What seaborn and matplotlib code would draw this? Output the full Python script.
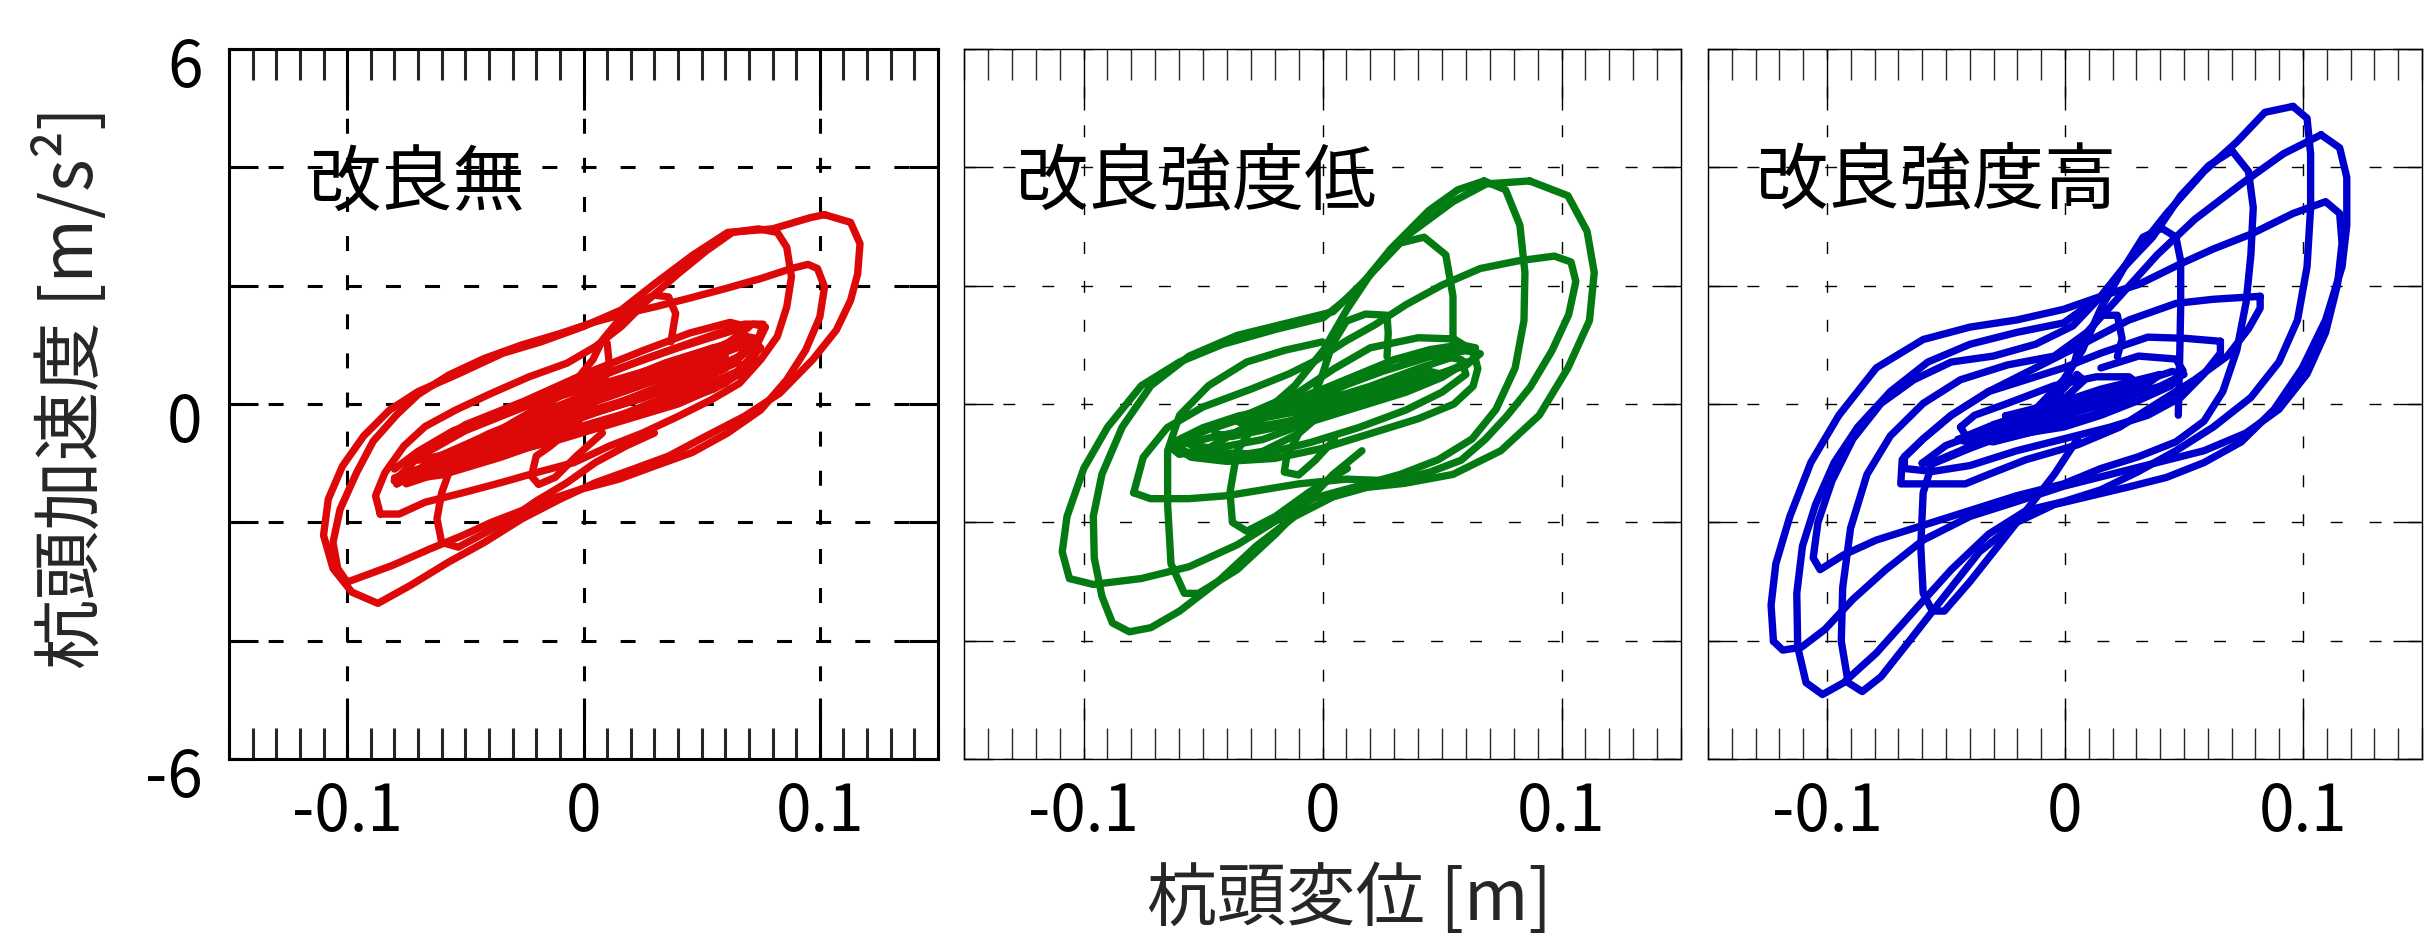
import pandas as pd
import matplotlib.pyplot as plt
import seaborn as sns
from matplotlib.ticker import FixedLocator, FixedFormatter, MultipleLocator, NullLocator
from matplotlib.transforms import ScaledTranslation

sns.set_style('ticks')
plt.rcParams['font.family'] = ['Noto Sans CJK JP', 'DejaVu Sans']

# ---- loops: (pile-head displacement [m], acceleration [m/s2]) ----

# 改良無 (no improvement)
red_loop1 = [(0.102, 3.20), (0.113, 3.07), (0.117, 2.71), (0.116, 2.20), (0.113, 1.75), (0.107, 1.25),
             (0.097, 0.75), (0.083, 0.18), (0.068, -0.21), (0.052, -0.54), (0.036, -0.88), (0.021, -1.10),
             (0.005, -1.33), (-0.010, -1.61), (-0.026, -1.94), (-0.042, -2.34), (-0.057, -2.67),
             (-0.073, -3.06), (-0.087, -3.37), (-0.098, -3.18), (-0.106, -2.78), (-0.110, -2.22),
             (-0.108, -1.61), (-0.102, -1.05), (-0.093, -0.54), (-0.082, -0.10), (-0.070, 0.21),
             (-0.054, 0.49), (-0.034, 0.86), (-0.018, 1.05), (0.000, 1.31), (0.016, 1.59), (0.030, 2.03),
             (0.046, 2.51), (0.061, 2.90), (0.080, 2.96), (0.096, 3.15), (0.102, 3.20)]
red_loop2 = [(-0.100, -3.01), (-0.081, -2.73), (-0.065, -2.45), (-0.051, -2.22), (-0.039, -2.00),
             (-0.026, -1.80), (-0.014, -1.61), (-0.001, -1.44), (0.015, -1.27), (0.030, -1.05), (0.046, -0.82),
             (0.061, -0.49), (0.075, -0.10), (0.086, 0.41), (0.094, 0.91), (0.100, 1.47), (0.102, 1.98),
             (0.099, 2.29), (0.095, 2.36), (0.088, 2.29), (0.075, 2.12), (0.060, 1.95), (0.044, 1.78),
             (0.030, 1.64), (0.018, 1.53), (0.005, 1.39), (-0.010, 1.19), (-0.026, 1.00), (-0.042, 0.77),
             (-0.057, 0.49), (-0.070, 0.16), (-0.079, -0.18), (-0.089, -0.63), (-0.096, -1.16),
             (-0.103, -1.78), (-0.106, -2.34), (-0.104, -2.78), (-0.100, -3.01)]
red_loop3 = [(-0.086, -1.86), (-0.088, -1.55), (-0.084, -1.16), (-0.076, -0.71), (-0.067, -0.38),
             (-0.054, -0.10), (-0.039, 0.18), (-0.023, 0.46), (-0.007, 0.69), (0.005, 0.97), (0.016, 1.31),
             (0.027, 1.75), (0.040, 2.20), (0.052, 2.59), (0.063, 2.90), (0.074, 2.96), (0.082, 2.90),
             (0.086, 2.65), (0.088, 2.15), (0.086, 1.64), (0.082, 1.14), (0.075, 0.75), (0.066, 0.35),
             (0.054, 0.07), (0.040, -0.21), (0.025, -0.49), (0.011, -0.71), (-0.004, -0.99), (-0.020, -1.16),
             (-0.035, -1.33), (-0.051, -1.50), (-0.067, -1.66), (-0.078, -1.86), (-0.086, -1.86)]
red_loop4 = [(0.037, 1.05), (0.039, 1.53), (0.036, 1.81), (0.030, 1.84), (0.022, 1.70), (0.015, 1.42),
             (0.008, 1.08), (0.004, 0.75), (-0.003, 0.41), (-0.010, 0.13), (-0.023, -0.15), (-0.035, -0.43),
             (-0.048, -0.71), (-0.056, -1.05), (-0.060, -1.50), (-0.062, -1.94), (-0.060, -2.34),
             (-0.053, -2.42), (-0.045, -2.25), (-0.032, -1.97), (-0.020, -1.64), (-0.007, -1.33),
             (0.005, -0.99), (0.018, -0.71), (0.030, -0.49)]
red_loop5 = [(0.010, 1.03), (0.011, 0.63), (0.005, 0.07), (-0.004, -0.38), (-0.014, -0.71), (-0.020, -0.88),
             (-0.022, -1.22), (-0.019, -1.36), (-0.012, -1.24), (-0.003, -0.88), (0.008, -0.49)]
red_core1 = [(-0.079, -1.35), (-0.072, -0.95), (-0.058, -0.55), (-0.035, -0.15), (-0.010, 0.25), (0.015, 0.60),
             (0.040, 0.95), (0.060, 1.20), (0.072, 1.35), (0.077, 1.30), (0.074, 1.05), (0.065, 0.75),
             (0.048, 0.45), (0.025, 0.10), (0.000, -0.20), (-0.025, -0.50), (-0.050, -0.85), (-0.068, -1.15),
             (-0.079, -1.35)]
red_core2 = [(-0.075, -1.30), (-0.065, -0.95), (-0.045, -0.60), (-0.020, -0.25), (0.005, 0.10), (0.030, 0.50),
             (0.050, 0.85), (0.068, 1.15), (0.074, 1.10), (0.068, 0.85), (0.050, 0.50), (0.025, 0.15),
             (0.000, -0.15), (-0.030, -0.55), (-0.055, -0.95), (-0.072, -1.25)]
red_core3 = [(-0.070, -1.15), (-0.055, -0.80), (-0.030, -0.40), (0.000, 0.00), (0.030, 0.40), (0.055, 0.80),
             (0.070, 1.05), (0.066, 0.80), (0.045, 0.40), (0.020, 0.05), (-0.010, -0.35), (-0.040, -0.75),
             (-0.062, -1.05), (-0.070, -1.15)]
red_core4 = [(-0.080, -1.25), (-0.070, -1.10), (-0.050, -0.90), (-0.020, -0.60), (0.010, -0.25), (0.040, 0.10),
             (0.065, 0.55), (0.075, 0.95), (0.070, 1.10), (0.055, 0.95), (0.030, 0.60), (0.000, 0.25),
             (-0.030, -0.10), (-0.055, -0.45), (-0.070, -0.80), (-0.080, -1.10)]
red_core5 = [(-0.060, -0.90), (-0.040, -0.50), (-0.015, -0.10), (0.010, 0.30), (0.035, 0.70), (0.055, 0.95),
             (0.060, 0.85), (0.045, 0.50), (0.020, 0.10), (-0.005, -0.30), (-0.030, -0.65), (-0.050, -0.95),
             (-0.060, -0.90)]
red_core6 = [(-0.040, -0.55), (-0.020, -0.25), (0.000, 0.05), (0.020, 0.35), (0.040, 0.60), (0.045, 0.50),
             (0.030, 0.25), (0.010, -0.05), (-0.010, -0.30), (-0.030, -0.55), (-0.040, -0.55)]
red_core7 = [(-0.080, -1.30), (-0.070, -0.90), (-0.050, -0.45), (-0.025, -0.05), (0.000, 0.35), (0.025, 0.75),
             (0.050, 1.10), (0.068, 1.35), (0.076, 1.35), (0.074, 1.10), (0.060, 0.60), (0.040, 0.20),
             (0.015, -0.20), (-0.010, -0.55), (-0.035, -0.90), (-0.060, -1.20), (-0.080, -1.30)]
red_core8 = [(-0.075, -1.35), (-0.060, -1.15), (-0.035, -0.85), (-0.010, -0.60), (0.015, -0.30), (0.040, 0.00),
             (0.060, 0.35), (0.072, 0.75), (0.074, 1.00), (0.065, 0.95), (0.045, 0.65), (0.020, 0.30),
             (-0.005, -0.05), (-0.030, -0.40), (-0.055, -0.80), (-0.072, -1.20)]
red_core9 = [(-0.070, -0.85), (-0.050, -0.35), (-0.025, 0.05), (0.000, 0.50), (0.025, 0.90), (0.045, 1.20),
             (0.062, 1.38), (0.070, 1.30), (0.060, 1.00), (0.040, 0.65), (0.015, 0.25), (-0.010, -0.15),
             (-0.035, -0.50), (-0.058, -0.85), (-0.070, -0.95)]
red_core10 = [(-0.050, -0.75), (-0.030, -0.45), (-0.005, -0.10), (0.020, 0.25), (0.045, 0.60), (0.060, 0.80),
              (0.055, 0.60), (0.035, 0.30), (0.010, -0.05), (-0.015, -0.40), (-0.040, -0.70), (-0.050, -0.75)]
red_core11 = [(-0.065, -1.20), (-0.045, -0.95), (-0.020, -0.70), (0.005, -0.40), (0.030, -0.10), (0.055, 0.25),
              (0.070, 0.60), (0.065, 0.70), (0.050, 0.45), (0.025, 0.10), (0.000, -0.20), (-0.025, -0.55),
              (-0.050, -0.95), (-0.065, -1.20)]

# 改良強度低 (low-strength improvement)
green_loop1 = [(0.0867, 3.77), (0.1027, 3.52), (0.1107, 2.92), (0.1137, 2.22), (0.1117, 1.41), (0.1027, 0.61),
               (0.0907, -0.19), (0.0746, -0.79), (0.0546, -1.19), (0.0345, -1.34), (0.0185, -1.41),
               (0.0044, -1.57), (-0.0116, -1.90), (-0.0277, -2.40), (-0.0437, -3.00), (-0.0598, -3.50),
               (-0.0718, -3.78), (-0.0808, -3.85), (-0.0879, -3.70), (-0.0923, -3.25), (-0.0955, -2.60),
               (-0.0959, -1.90), (-0.0923, -1.19), (-0.0838, -0.39), (-0.0718, 0.31), (-0.0558, 0.81),
               (-0.0357, 1.16), (-0.0156, 1.36), (0.0044, 1.56), (0.0185, 2.12), (0.0345, 2.82),
               (0.0546, 3.42), (0.0686, 3.72), (0.0867, 3.77)]
green_loop2 = [(0.0676, 3.77), (0.0766, 3.62), (0.0826, 3.02), (0.0847, 2.22), (0.0843, 1.41), (0.0806, 0.61),
               (0.0726, -0.09), (0.0626, -0.59), (0.0485, -0.94), (0.0325, -1.19), (0.0165, -1.37),
               (-0.0036, -1.59), (-0.0197, -1.98), (-0.0357, -2.38), (-0.0558, -2.75), (-0.0758, -2.95),
               (-0.0959, -3.05), (-0.1059, -2.95), (-0.1089, -2.50), (-0.1069, -1.90), (-0.0999, -1.09),
               (-0.0899, -0.39), (-0.0758, 0.31), (-0.0598, 0.71), (-0.0417, 1.01), (-0.0197, 1.26),
               (0.0004, 1.46), (0.0144, 1.92), (0.0285, 2.62), (0.0445, 3.27), (0.0566, 3.62), (0.0676, 3.77)]
green_loop3 = [(-0.079, -1.50), (-0.075, -0.90), (-0.065, -0.40), (-0.050, -0.05), (-0.030, 0.25),
               (-0.014, 0.51), (-0.003, 0.73), (0.010, 1.07), (0.022, 1.34), (0.035, 1.68), (0.050, 2.01),
               (0.066, 2.29), (0.082, 2.42), (0.097, 2.50), (0.104, 2.40), (0.106, 2.07), (0.103, 1.51),
               (0.096, 0.90), (0.087, 0.29), (0.077, -0.21), (0.068, -0.60), (0.058, -0.95), (0.045, -1.15),
               (0.030, -1.30), (0.010, -1.27), (-0.010, -1.35), (-0.025, -1.45), (-0.040, -1.55),
               (-0.056, -1.60), (-0.072, -1.60), (-0.079, -1.50)]
green_loop4 = [(0.0546, 0.91), (0.0546, 1.82), (0.0516, 2.52), (0.0425, 2.82), (0.0325, 2.72), (0.0205, 2.22),
               (0.0104, 1.61), (0.0004, 0.91), (-0.0116, 0.31), (-0.0257, -0.19), (-0.0357, -0.79),
               (-0.0387, -1.49), (-0.0377, -2.00), (-0.0317, -2.15), (-0.0197, -1.90), (-0.0056, -1.49),
               (0.0104, -1.09)]
green_loop5 = [(0.0165, -0.79), (0.0044, -1.19), (-0.0076, -1.70), (-0.0197, -2.20), (-0.0357, -2.80),
               (-0.0518, -3.20), (-0.0578, -3.20), (-0.0634, -2.70), (-0.0648, -1.70), (-0.0648, -0.79),
               (-0.0598, -0.19), (-0.0477, 0.31), (-0.0317, 0.71), (-0.0156, 0.91), (0.0000, 1.05)]
green_loop6 = [(0.027, 0.80), (0.0275, 1.20), (0.027, 1.50), (0.018, 1.52), (0.010, 1.40), (0.004, 1.00),
               (0.000, 0.50), (-0.005, 0.00), (-0.010, -0.50), (-0.015, -0.90), (-0.016, -1.15), (-0.010, -1.20),
               (-0.003, -0.95), (0.005, -0.60)]
green_core1 = [(-0.061, -0.62), (-0.050, -0.40), (-0.035, -0.20), (-0.020, -0.08), (-0.005, 0.00), (0.000, -0.15),
               (-0.010, -0.50), (-0.025, -0.80), (-0.040, -0.90), (-0.052, -0.88), (-0.061, -0.75), (-0.061, -0.62)]
green_core2 = [(0.000, 0.10), (0.015, 0.45), (0.030, 0.75), (0.045, 0.92), (0.058, 1.00), (0.064, 0.95),
               (0.063, 0.75), (0.055, 0.60), (0.040, 0.35), (0.025, 0.15), (0.010, 0.00), (0.000, -0.10),
               (-0.010, -0.20)]
green_core3 = [(-0.055, -0.55), (-0.040, -0.30), (-0.020, -0.10), (0.000, 0.05), (0.020, 0.30), (0.040, 0.60),
               (0.055, 0.80), (0.060, 0.70), (0.050, 0.45), (0.035, 0.20), (0.015, -0.05), (-0.005, -0.30),
               (-0.025, -0.60), (-0.045, -0.75), (-0.055, -0.70), (-0.055, -0.55)]
green_core4 = [(-0.045, -0.40), (-0.030, -0.20), (-0.010, -0.05), (0.010, 0.10), (0.030, 0.35), (0.045, 0.55),
               (0.050, 0.50), (0.040, 0.30), (0.020, 0.05), (0.000, -0.15), (-0.020, -0.40), (-0.038, -0.55),
               (-0.045, -0.50), (-0.045, -0.40)]
green_core5 = [(-0.060, -0.70), (-0.045, -0.55), (-0.020, -0.35), (0.000, -0.15), (0.020, 0.10), (0.040, 0.40),
               (0.060, 0.65), (0.066, 0.85), (0.060, 0.90), (0.045, 0.80), (0.025, 0.55), (0.005, 0.25),
               (-0.015, -0.05), (-0.035, -0.45), (-0.050, -0.80), (-0.060, -0.85), (-0.063, -0.75)]
green_core6 = [(-0.062, -0.72), (-0.055, -0.90), (-0.040, -0.97), (-0.020, -0.92), (0.000, -0.75), (0.020, -0.50),
               (0.040, -0.25), (0.055, 0.00), (0.063, 0.30), (0.065, 0.60), (0.063, 0.90), (0.055, 1.10),
               (0.040, 1.12), (0.020, 0.95), (0.005, 0.60), (-0.010, 0.20), (-0.030, -0.15), (-0.050, -0.45),
               (-0.062, -0.72)]
green_core7 = [(-0.058, -0.60), (-0.045, -0.82), (-0.025, -0.85), (-0.005, -0.65), (0.015, -0.40), (0.035, -0.10),
               (0.050, 0.20), (0.060, 0.50), (0.058, 0.75), (0.045, 0.85), (0.030, 0.75), (0.015, 0.50),
               (0.000, 0.25), (-0.020, -0.05), (-0.040, -0.30), (-0.058, -0.60)]
green_core8 = [(-0.035, -0.30), (-0.020, -0.20), (0.000, -0.05), (0.020, 0.15), (0.035, 0.35), (0.040, 0.30),
               (0.025, 0.10), (0.005, -0.10), (-0.015, -0.30), (-0.030, -0.40), (-0.035, -0.30)]

# 改良強度高 (high-strength improvement)
blue_loop1 = [(0.0958, 5.03), (0.1017, 4.83), (0.1032, 4.23), (0.1032, 3.32), (0.1017, 2.32), (0.0977, 1.42),
              (0.0899, 0.71), (0.0781, 0.11), (0.0623, -0.39), (0.0466, -0.79), (0.0309, -1.14), (0.0151, -1.45),
              (-0.0006, -1.65), (-0.0163, -1.80), (-0.0321, -2.20), (-0.0478, -2.80), (-0.0635, -3.50),
              (-0.0793, -4.21), (-0.0930, -4.71), (-0.1019, -4.91), (-0.1088, -4.71), (-0.1123, -4.11),
              (-0.1127, -3.20), (-0.1103, -2.40), (-0.1048, -1.70), (-0.0970, -0.99), (-0.0871, -0.39),
              (-0.0734, 0.21), (-0.0576, 0.71), (-0.0399, 1.01), (-0.0203, 1.21), (-0.0006, 1.37),
              (0.0151, 1.82), (0.0289, 2.52), (0.0427, 3.22), (0.0584, 3.93), (0.0722, 4.43), (0.0840, 4.93),
              (0.0958, 5.03)]
blue_loop2 = [(0.1076, 4.55), (0.1154, 4.33), (0.1184, 3.83), (0.1184, 3.02), (0.1164, 2.32), (0.1095, 1.42),
              (0.0997, 0.61), (0.0879, -0.09), (0.0741, -0.64), (0.0584, -0.99), (0.0427, -1.24), (0.0269, -1.40),
              (0.0112, -1.55), (-0.0045, -1.70), (-0.0203, -2.00), (-0.0360, -2.50), (-0.0517, -3.30),
              (-0.0655, -4.01), (-0.0773, -4.61), (-0.0852, -4.86), (-0.0911, -4.71), (-0.0940, -4.01),
              (-0.0934, -3.10), (-0.0901, -2.10), (-0.0832, -1.19), (-0.0734, -0.54), (-0.0596, 0.01),
              (-0.0439, 0.41), (-0.0242, 0.66), (-0.0045, 0.81), (0.0092, 1.21), (0.0230, 1.82), (0.0387, 2.52),
              (0.0545, 3.12), (0.0741, 3.72), (0.0918, 4.23), (0.1076, 4.55)]
blue_loop3 = [(-0.1225, -4.01), (-0.1235, -3.40), (-0.1215, -2.70), (-0.1156, -1.90), (-0.1068, -0.99),
              (-0.0950, -0.19), (-0.0793, 0.61), (-0.0596, 1.09), (-0.0399, 1.30), (-0.0203, 1.42),
              (-0.0006, 1.60), (0.0151, 1.82), (0.0309, 2.02), (0.0486, 2.37), (0.0623, 2.62), (0.0781, 2.87),
              (0.0958, 3.22), (0.1095, 3.42), (0.1154, 3.22), (0.1164, 2.72), (0.1145, 2.02), (0.1095, 1.21),
              (0.1017, 0.51), (0.0899, -0.09), (0.0761, -0.49), (0.0584, -0.79), (0.0387, -0.99),
              (0.0191, -1.19), (-0.0006, -1.39), (-0.0203, -1.65), (-0.0399, -1.90), (-0.0596, -2.30),
              (-0.0753, -2.80), (-0.0891, -3.30), (-0.1009, -3.81), (-0.1107, -4.11), (-0.1186, -4.16),
              (-0.1225, -4.01)]
blue_loop4 = [(0.0702, 4.28), (0.0771, 3.93), (0.0791, 3.32), (0.0781, 2.52), (0.0761, 1.72), (0.0722, 0.91),
              (0.0663, 0.21), (0.0584, -0.29), (0.0466, -0.64), (0.0309, -0.89), (0.0151, -1.09),
              (-0.0006, -1.35), (-0.0203, -1.55), (-0.0399, -1.80), (-0.0596, -2.05), (-0.0793, -2.30),
              (-0.0930, -2.55), (-0.1029, -2.80), (-0.1058, -2.60), (-0.1038, -2.00), (-0.0979, -1.30),
              (-0.0891, -0.59), (-0.0773, 0.01), (-0.0635, 0.41), (-0.0478, 0.71), (-0.0301, 0.81),
              (-0.0124, 1.01), (0.0033, 1.32), (0.0151, 1.82), (0.0250, 2.32), (0.0368, 2.82), (0.0486, 3.52),
              (0.0604, 4.03), (0.0702, 4.28)]
blue_loop5 = [(0.0476, -0.19), (0.0482, 0.81), (0.0486, 1.62), (0.0486, 2.42), (0.0466, 2.82), (0.0407, 2.97),
              (0.0328, 2.82), (0.0250, 2.32), (0.0151, 1.62), (0.0073, 0.91), (-0.0006, 0.41), (-0.0124, -0.09),
              (-0.0281, -0.49), (-0.0439, -0.79), (-0.0557, -0.99), (-0.0596, -1.50), (-0.0606, -2.40),
              (-0.0596, -3.20), (-0.0557, -3.50), (-0.0507, -3.50), (-0.0399, -3.00), (-0.0281, -2.40),
              (-0.0163, -1.80), (-0.0045, -1.19), (0.0053, -0.59)]
blue_loop6 = [(0.0820, 1.82), (0.0820, 1.62), (0.0771, 1.27), (0.0682, 0.81), (0.0545, 0.41), (0.0387, 0.01),
              (0.0230, -0.39), (0.0053, -0.69), (-0.0163, -0.94), (-0.0321, -1.19), (-0.0419, -1.35),
              (-0.0690, -1.35), (-0.0684, -0.94), (-0.0596, -0.59), (-0.0478, -0.19), (-0.0321, 0.21),
              (-0.0124, 0.61), (0.0073, 1.01), (0.0269, 1.42), (0.0466, 1.70), (0.0623, 1.77), (0.0820, 1.82)]
blue_loop7 = [(0.0653, 1.06), (0.0653, 0.86), (0.0584, 0.51), (0.0486, 0.11), (0.0348, -0.19), (0.0191, -0.39),
              (-0.0006, -0.59), (-0.0203, -0.79), (-0.0399, -1.04), (-0.0557, -1.14), (-0.0675, -1.09),
              (-0.0675, -0.89), (-0.0596, -0.59), (-0.0478, -0.19), (-0.0321, 0.21), (-0.0163, 0.41),
              (-0.0006, 0.61), (0.0151, 0.86), (0.0348, 1.13), (0.0505, 1.11), (0.0653, 1.06)]
blue_loop8 = [(-0.0439, -0.39), (-0.0409, -0.59), (-0.0301, -0.64), (-0.0104, -0.44), (0.0112, -0.19),
              (0.0269, 0.06), (0.0319, 0.31), (0.0269, 0.46), (0.0132, 0.46), (-0.0045, 0.31), (-0.0242, 0.01),
              (-0.0380, -0.19), (-0.0439, -0.39)]
blue_loop9 = [(0.0151, 0.61), (0.0309, 0.81), (0.0466, 0.76), (0.0496, 0.56), (0.0446, 0.31), (0.0309, 0.06),
              (0.0151, -0.19), (-0.0006, -0.39), (-0.0163, -0.49), (-0.0281, -0.39), (-0.0203, -0.19),
              (-0.0006, 0.11)]
blue_core1 = [(-0.030, -0.35), (-0.015, -0.15), (0.000, 0.05), (0.015, 0.25), (0.025, 0.35), (0.020, 0.20),
              (0.005, 0.00), (-0.010, -0.20), (-0.025, -0.40), (-0.030, -0.35)]
blue_core2 = [(-0.045, -0.60), (-0.030, -0.35), (-0.010, -0.10), (0.010, 0.15), (0.030, 0.40), (0.040, 0.50),
              (0.035, 0.35), (0.015, 0.05), (-0.005, -0.20), (-0.025, -0.45), (-0.040, -0.65), (-0.045, -0.60)]
blue_core3 = [(-0.020, -0.50), (-0.010, -0.20), (0.000, 0.10), (0.008, 0.40), (0.005, 0.50), (-0.002, 0.20),
              (-0.010, -0.10), (-0.015, -0.40), (-0.020, -0.50)]
blue_core4 = [(-0.003, 0.20), (0.004, 0.70), (0.006, 1.00), (0.015, 1.50), (0.022, 1.50), (0.024, 1.10),
              (0.022, 0.80)]
blue_core5 = [(-0.060, -1.00), (-0.050, -0.70), (-0.030, -0.40), (-0.010, -0.15), (0.010, 0.10), (0.030, 0.35),
              (0.045, 0.55), (0.050, 0.50), (0.040, 0.30), (0.020, 0.05), (0.000, -0.20), (-0.020, -0.45),
              (-0.040, -0.75), (-0.055, -1.00), (-0.060, -1.00)]
blue_core6 = [(-0.025, -0.20), (-0.010, -0.05), (0.005, 0.10), (0.015, 0.20), (0.010, 0.05), (-0.005, -0.10),
              (-0.020, -0.25), (-0.025, -0.20)]

panel_loops = [
    [red_loop1, red_loop2, red_loop3, red_loop4, red_loop5,
     red_core1, red_core2, red_core3, red_core4, red_core5, red_core6,
     red_core7, red_core8, red_core9, red_core10, red_core11],
    [green_loop1, green_loop2, green_loop3, green_loop4, green_loop5, green_loop6,
     green_core1, green_core2, green_core3, green_core4, green_core5, green_core6,
     green_core7, green_core8],
    [blue_loop1, blue_loop2, blue_loop3, blue_loop4, blue_loop5, blue_loop6, blue_loop7,
     blue_loop8, blue_loop9, blue_core1, blue_core2, blue_core3, blue_core4, blue_core5, blue_core6],
]
panel_titles = ['改良無', '改良強度低', '改良強度高']
line_colors = ['#DD0808', '#047A12', '#0000CC']
x_ticks = [-0.1, 0, 0.1]
x_tick_labels = ['-0.1', '0', '0.1']
y_ticks = [-6, -4, -2, 0, 2, 4, 6]
y_tick_labels = ['-6', '', '', '0', '', '', '6']


def loops_to_frame(loops):
    rows = []
    for i, loop in enumerate(loops):
        for x, y in loop:
            rows.append({'disp': x, 'acc': y, 'loop': i})
    return pd.DataFrame(rows)


fig = plt.figure(figsize=(24.24, 9.39), dpi=100)
W, H = 2424, 939
# panel boxes in pixels: left, right
boxes = [(229, 938), (964, 1681), (1708, 2422)]
top_px, bottom_px = 49, 759

for k, (x0, x1) in enumerate(boxes):
    ax = fig.add_axes([x0 / W, (H - bottom_px) / H, (x1 - x0) / W, (bottom_px - top_px) / H])
    df = loops_to_frame(panel_loops[k])
    sns.lineplot(data=df, x='disp', y='acc', units='loop', estimator=None, sort=False,
                 color=line_colors[k], ax=ax)
    # make the loop lines as heavy as in the original
    for ln in ax.get_lines():
        ln.set_linewidth(5.3)
        ln.set_solid_joinstyle('round')
        ln.set_solid_capstyle('round')
    ax.set_xlim(-0.15, 0.15)
    ax.set_ylim(-6, 6)
    ax.set_xlabel('')
    ax.set_ylabel('')

    lw = 2.2 if k == 0 else 1.0
    for sp in ax.spines.values():
        sp.set_linewidth(lw)
        sp.set_color('black')
        sp.set_visible(True)

    ax.xaxis.set_major_locator(FixedLocator(x_ticks))
    ax.xaxis.set_major_formatter(FixedFormatter(x_tick_labels))
    ax.xaxis.set_minor_locator(MultipleLocator(0.01))
    ax.yaxis.set_major_locator(FixedLocator(y_ticks))
    ax.yaxis.set_major_formatter(FixedFormatter(y_tick_labels))
    ax.yaxis.set_minor_locator(NullLocator())

    ax.tick_params(which='major', direction='in', length=44, width=lw, top=True, right=True,
                   labelsize=46, colors='black')
    ax.tick_params(axis='y', which='major', length=21)
    ax.tick_params(which='minor', direction='in', length=22, width=lw, top=True, bottom=True)
    ax.tick_params(axis='x', which='major', pad=15)
    ax.tick_params(axis='y', which='major', pad=19, labelleft=(k == 0))

    if k == 0:
        ax.grid(True, which='major', color='black', lw=2.2, linestyle=(0, (4.9, 7.9)))
    else:
        ax.grid(True, which='major', color='black', lw=1.0, linestyle=(0, (8.6, 19.4)))
    ax.set_axisbelow(True)

    for lab in ax.get_yticklabels():
        lab.set_transform(lab.get_transform() + ScaledTranslation(0, -0.12, fig.dpi_scale_trans))

    title_pos = [(0.264, 0.808), (0.323, 0.811), (0.319, 0.813)][k]
    ax.text(title_pos[0], title_pos[1], panel_titles[k], transform=ax.transAxes,
            ha='center', va='center', fontsize=52, color='black')

fig.text(0.0297, 0.587, '杭頭加速度 [m/s²]', rotation=90, ha='center', va='center', fontsize=50)
fig.text(0.5565, 0.0415, '杭頭変位 [m]', ha='center', va='center', fontsize=50)

fig.savefig('out.png', dpi=100)
